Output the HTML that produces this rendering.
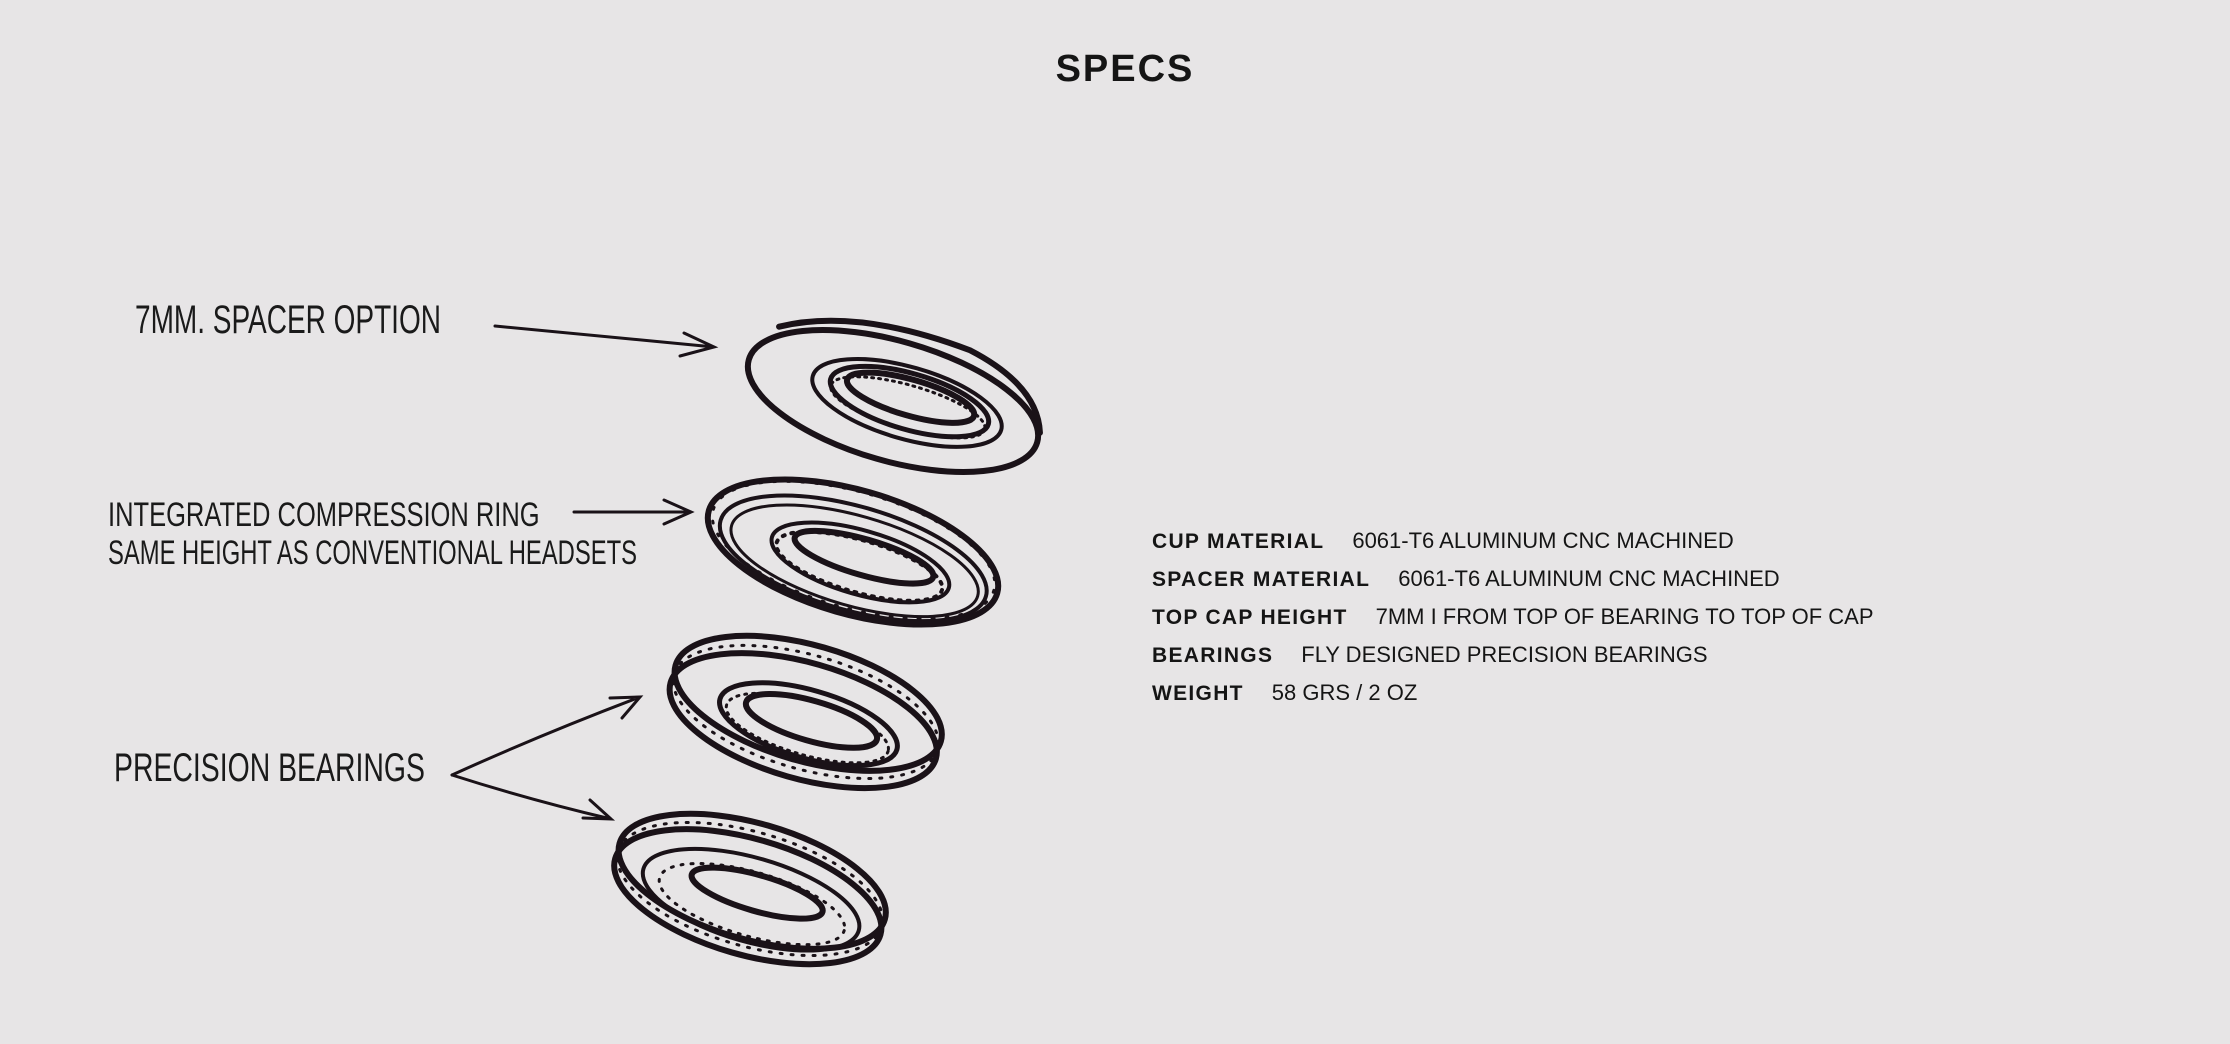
<!DOCTYPE html>
<html><head><meta charset="utf-8"><style>
html,body{margin:0;padding:0;background:#e7e5e6;width:2230px;height:1044px;overflow:hidden}
.t{position:absolute;left:10px;width:2230px;text-align:center;top:48px;font:bold 38px "Liberation Sans",sans-serif;letter-spacing:2px;color:#151515}
.specs{position:absolute;left:1152px;top:528px;font-family:"Liberation Sans",sans-serif;color:#151515;font-size:22px;letter-spacing:0px}
.specs div{height:38px;white-space:nowrap}
.specs b{font-size:21px;letter-spacing:1.3px;margin-right:28px}
.h{position:absolute;font-family:"Liberation Sans Narrow","Liberation Sans",sans-serif;color:#1a1a1a;white-space:nowrap;transform-origin:0 0}
</style></head><body>
<div class="t">SPECS</div>
<div class="h" style="left:135px;top:298px;font-size:40px;transform:scaleX(0.7)">7MM. SPACER OPTION</div>
<div class="h" style="left:108px;top:496px;font-size:34px;transform:scaleX(0.75)">INTEGRATED COMPRESSION RING</div>
<div class="h" style="left:108px;top:534px;font-size:34px;transform:scaleX(0.7)">SAME HEIGHT AS CONVENTIONAL HEADSETS</div>
<div class="h" style="left:114px;top:746px;font-size:40px;transform:scaleX(0.71)">PRECISION BEARINGS</div>
<svg width="2230" height="1044" style="position:absolute;left:0;top:0" fill="none" stroke="#1a1218" stroke-linecap="round">
<g stroke-width="3">
<path d="M495 326 L714 347 M684 333 L714 347 L680 356"/>
<path d="M574 512 L691 512 M664 500 L691 512 L664 524"/>
<path d="M452 775 Q540 735 640 697 M610 698 L640 697 L622 718"/>
<path d="M452 775 Q530 800 611 819 M590 800 L611 819 L583 818"/>
</g>
<g transform="translate(893,401) rotate(16)">
<ellipse rx="150" ry="60" stroke-width="6"/>
<path d="M-130 -40 Q-60 -80 60 -70 Q135 -55 150 -10" stroke-width="6"/>
<ellipse cx="14" cy="-2" rx="98" ry="36" stroke-width="4"/>
<ellipse cx="16" cy="-4" rx="82" ry="28" stroke-width="5"/>
<ellipse cx="16" cy="-8" rx="66" ry="18" stroke-width="6"/>
<ellipse cx="16" cy="2" rx="80" ry="22" stroke-width="3" stroke-dasharray="2 5"/>
</g>
<g transform="translate(853,552) rotate(16)">
<ellipse rx="150" ry="62" stroke-width="6"/>
<ellipse cx="2" cy="6" rx="138" ry="52" stroke-width="4"/>
<ellipse cx="4" cy="8" rx="128" ry="45" stroke-width="3"/>
<ellipse cx="10" cy="8" rx="92" ry="32" stroke-width="4"/>
<ellipse cx="12" cy="2" rx="72" ry="18" stroke-width="6"/>
<ellipse cx="10" cy="12" rx="86" ry="26" stroke-width="4" stroke-dasharray="2 7"/>
<ellipse cx="0" cy="-2" rx="146" ry="58" stroke-width="3" stroke-dasharray="2 12"/>
</g>
<g transform="translate(806,711) rotate(16)">
<ellipse cx="0" cy="-8" rx="138" ry="58" stroke-width="6"/>
<ellipse cx="0" cy="10" rx="138" ry="58" stroke-width="6"/>
<ellipse cx="0" cy="1" rx="137" ry="57" stroke-width="3" stroke-dasharray="2 9"/>
<ellipse cx="6" cy="12" rx="92" ry="34" stroke-width="5"/>
<ellipse cx="8" cy="8" rx="68" ry="20" stroke-width="6"/>
<ellipse cx="6" cy="16" rx="84" ry="27" stroke-width="3" stroke-dasharray="2 6"/>
</g>
<g transform="translate(750,889) rotate(16)">
<ellipse cx="0" cy="-8" rx="138" ry="58" stroke-width="6"/>
<ellipse cx="0" cy="8" rx="138" ry="58" stroke-width="6"/>
<ellipse cx="0" cy="0" rx="137" ry="57" stroke-width="3" stroke-dasharray="2 9"/>
<ellipse cx="4" cy="10" rx="112" ry="42" stroke-width="4"/>
<ellipse cx="8" cy="2" rx="68" ry="18" stroke-width="6"/>
<ellipse cx="6" cy="14" rx="96" ry="32" stroke-width="3" stroke-dasharray="2 8"/>
</g>
</svg>
<div class="specs">
<div><b>CUP MATERIAL</b>6061-T6 ALUMINUM CNC MACHINED</div>
<div><b>SPACER MATERIAL</b>6061-T6 ALUMINUM CNC MACHINED</div>
<div><b>TOP CAP HEIGHT</b>7MM I FROM TOP OF BEARING TO TOP OF CAP</div>
<div><b>BEARINGS</b>FLY DESIGNED PRECISION BEARINGS</div>
<div><b>WEIGHT</b>58 GRS / 2 OZ</div>
</div>
</body></html>
